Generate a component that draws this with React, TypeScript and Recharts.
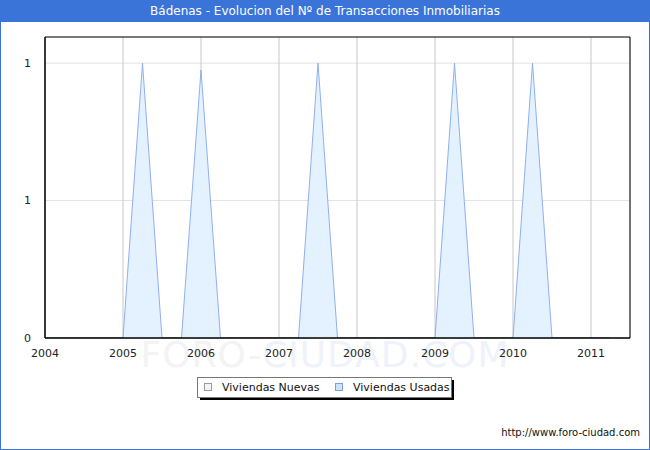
import React from "react";
import { ComposedChart, Area, XAxis, YAxis, CartesianGrid, ReferenceArea } from "recharts";

const quarters = [
  2004, 2004.25, 2004.5, 2004.75,
  2005, 2005.25, 2005.5, 2005.75,
  2006, 2006.25, 2006.5, 2006.75,
  2007, 2007.25, 2007.5, 2007.75,
  2008, 2008.25, 2008.5, 2008.75,
  2009, 2009.25, 2009.5, 2009.75,
  2010, 2010.25, 2010.5, 2010.75,
  2011, 2011.25,
];
const viviendasNuevas = [
  0, 0, 0, 0, 0, 0, 0, 0, 0, 0, 0, 0, 0, 0, 0, 0,
  0, 0, 0, 0, 0, 0, 0, 0, 0, 0, 0, 0, 0, 0,
];
const viviendasUsadas = [
  0, 0, 0, 0,
  0, 1, 0, 0,
  0.975, 0, 0, 0,
  0, 0, 1, 0,
  0, 0, 0, 0,
  0, 1, 0, 0,
  0, 1, 0, 0,
  0, 0,
];
const yearTicks = [2004, 2005, 2006, 2007, 2008, 2009, 2010, 2011];
const valueTicks = [0, 0.5, 1];

const data = quarters.map((q, i) => ({ q, nuevas: viviendasNuevas[i], usadas: viviendasUsadas[i] }));

const FONT = "'DejaVu Sans', Verdana, sans-serif";

export default function App() {
  return (
    <div style={{ position: "absolute", left: 0, top: 0, width: 650, height: 450, background: "#fff", fontFamily: FONT, overflow: "hidden" }}>
      <div style={{ position: "absolute", left: 0, top: 0, width: 648, height: 448, border: "1px solid #3a74d8" }} />
      <div style={{ position: "absolute", left: 0, top: 0, width: 650, height: 22, background: "#3a74d8", color: "#fff", fontSize: 12, lineHeight: "22px", textAlign: "center" }}>
        Bádenas - Evolucion del Nº de Transacciones Inmobiliarias
      </div>
      <div style={{ position: "absolute", left: 0, top: 334, width: 650, textAlign: "center", fontSize: 36, letterSpacing: 1, lineHeight: "42px", whiteSpace: "nowrap" }}>
        <span style={{ color: "#f3f3f3" }}>FORO-</span><span style={{ color: "#eff1fb" }}>CIUDAD.COM</span>
      </div>
      <div style={{ position: "absolute", left: 0, top: 0 }}>
        <ComposedChart width={650} height={450} data={data} margin={{ top: 37, right: 20, bottom: 82, left: 0 }}>
          <CartesianGrid horizontal={true} vertical={false} stroke="#e2e2e2" />
          <CartesianGrid horizontal={false} vertical={true} stroke="#c8c8c8" />
          <XAxis
            dataKey="q"
            type="number"
            domain={[2004, 2011.5]}
            ticks={yearTicks}
            allowDataOverflow
            height={30}
            tickLine={false}
            axisLine={{ stroke: "#000" }}
            tick={{ fill: "#222", fontSize: 11, fontFamily: FONT }}
            tickMargin={5}
            interval={0}
          />
          <YAxis
            type="number"
            domain={[0, 1.095]}
            ticks={valueTicks}
            allowDataOverflow
            width={45}
            tickLine={false}
            axisLine={{ stroke: "#000" }}
            tick={{ fill: "#222", fontSize: 11, fontFamily: FONT }}
            tickMargin={8}
            tickFormatter={(v: number) => String(Math.round(v + 0.0001))}
            interval={0}
          />
          <Area type="linear" dataKey="nuevas" stroke="#aaaaaa" fill="#eeeeee" strokeWidth={1} isAnimationActive={false} dot={false} activeDot={false} />
          <Area type="linear" dataKey="usadas" stroke="#8fb0ee" fill="#e4f1ff" fillOpacity={1} strokeWidth={1} isAnimationActive={false} dot={false} activeDot={false} />
          <ReferenceArea x1={2004} x2={2011.5} y1={0} y2={1.095} fill="none" stroke="#000" strokeWidth={1} ifOverflow="visible" />
        </ComposedChart>
      </div>
      <div style={{ position: "absolute", left: 200, top: 380, width: 254, height: 20, background: "#000" }} />
      <div style={{ position: "absolute", left: 197, top: 377, width: 253, height: 19, background: "#fff", border: "1px solid #777", fontSize: 11, color: "#111", whiteSpace: "nowrap" }}>
        <span style={{ position: "absolute", left: 6, top: 5, width: 8, height: 8, border: "1px solid #999", background: "#f4f4f4", boxSizing: "border-box" }} />
        <span style={{ position: "absolute", left: 24, top: 3, lineHeight: "13px" }}>Viviendas Nuevas</span>
        <span style={{ position: "absolute", left: 137, top: 5, width: 8, height: 8, border: "1px solid #7f9fd8", background: "#cfe4fb", boxSizing: "border-box" }} />
        <span style={{ position: "absolute", left: 155, top: 3, lineHeight: "13px" }}>Viviendas Usadas</span>
      </div>
      <div style={{ position: "absolute", right: 10, top: 427, fontSize: 10, color: "#111", whiteSpace: "nowrap" }}>
        http://www.foro-ciudad.com
      </div>
    </div>
  );
}
